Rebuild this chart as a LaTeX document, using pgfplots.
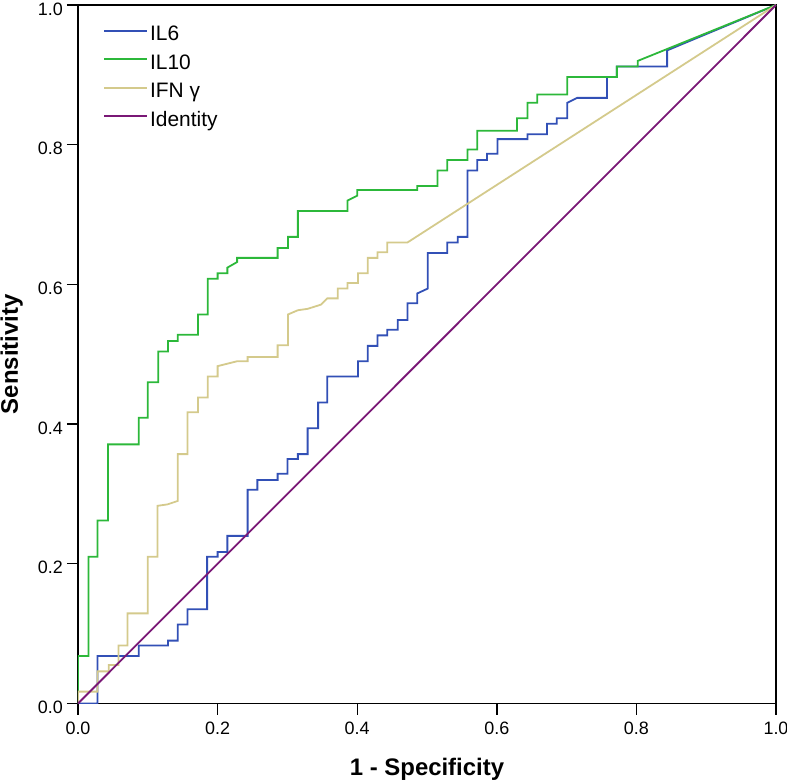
\documentclass[border=0pt]{standalone}
\usepackage{fontspec}
\setmainfont{Liberation Sans}
\usepackage{pgfplots}
\pgfplotsset{compat=1.18}
\definecolor{cIL6}{RGB}{50,80,182}
\definecolor{cIL10}{RGB}{44,184,58}
\definecolor{cIFN}{RGB}{212,202,140}
\definecolor{cId}{RGB}{122,24,118}
\begin{document}
\begin{tikzpicture}
\useasboundingbox (-78bp,-78.5bp) rectangle (709bp,703.5bp);
\begin{axis}[
  scale only axis,
  width=698bp, height=698.5bp,
  xmin=0, xmax=1, ymin=0, ymax=1,
  xtick={0,0.2,0.4,0.6,0.8,1}, ytick={0,0.2,0.4,0.6,0.8,1},
  xtick pos=bottom, ytick pos=left,
  tick align=outside, major tick length=11bp,
  every tick/.style={black, line width=1.4bp},
  axis line style={black, line width=1.6bp},
  /pgf/number format/assume math mode=true,
  /pgf/number format/.cd, fixed, fixed zerofill, precision=1, /pgfplots/.cd,
  tick label style={font=\fontsize{18}{18}\selectfont},
  xticklabel style={anchor=north, inner sep=0pt, yshift=-7bp},
  yticklabel style={anchor=east, inner sep=0pt, xshift=-4bp, yshift=-4bp},
  xlabel={1 - Specificity},
  ylabel={Sensitivity},
  label style={font=\bfseries\fontsize{24}{24}\selectfont},
  xlabel style={at={(axis description cs:0.5,0)}, anchor=base, yshift=-71.5bp, inner sep=0pt},
  ylabel style={at={(axis description cs:0,0.5)}, anchor=base, yshift=60bp, inner sep=0pt},
  legend cell align=left,
  legend image code/.code={\draw[#1] (0bp,5bp) -- (43bp,5bp);},
  legend style={at={(rel axis cs:0.036,0.9735)}, anchor=north west, draw=none, fill=none,
    inner sep=0pt, row sep=4.5bp, font=\fontsize{21}{21}\selectfont,
    nodes={text height=15bp, text depth=5bp, inner sep=2bp}},
]
\addplot[cIL6, line width=1.8bp] coordinates {
(0,0)(0.028,0)(0.028,0.068)(0.087,0.068)(0.087,0.083)(0.129,0.083)(0.129,0.09)(0.143,0.09)(0.143,0.113)(0.157,0.113)(0.157,0.135)(0.185,0.135)(0.185,0.21)(0.2,0.21)(0.2,0.217)(0.214,0.217)(0.214,0.24)(0.243,0.24)(0.243,0.306)(0.257,0.306)(0.257,0.32)(0.286,0.32)(0.286,0.329)(0.3,0.329)(0.3,0.35)(0.315,0.35)(0.315,0.357)(0.329,0.357)(0.329,0.394)(0.344,0.394)(0.344,0.431)(0.357,0.431)(0.357,0.468)(0.401,0.468)(0.401,0.49)(0.415,0.49)(0.415,0.512)(0.429,0.512)(0.429,0.527)(0.443,0.527)(0.443,0.535)(0.458,0.535)(0.458,0.549)(0.472,0.549)(0.472,0.573)(0.486,0.573)(0.486,0.587)(0.501,0.594)(0.501,0.645)(0.529,0.645)(0.529,0.66)(0.544,0.66)(0.544,0.668)(0.558,0.668)(0.558,0.763)(0.572,0.763)(0.572,0.778)(0.586,0.778)(0.586,0.787)(0.601,0.787)(0.601,0.808)(0.644,0.808)(0.644,0.815)(0.672,0.815)(0.672,0.83)(0.686,0.83)(0.686,0.838)(0.701,0.838)(0.701,0.86)(0.715,0.867)(0.758,0.867)(0.758,0.897)(0.772,0.897)(0.772,0.912)(0.844,0.912)(0.844,0.935)(1,1)
};
\addlegendentry{IL6}
\addplot[cIL10, line width=1.8bp] coordinates {
(0,0)(0,0.068)(0.015,0.068)(0.015,0.21)(0.028,0.21)(0.028,0.262)(0.043,0.262)(0.043,0.371)(0.087,0.371)(0.087,0.409)(0.1,0.409)(0.1,0.46)(0.115,0.46)(0.115,0.504)(0.129,0.504)(0.129,0.519)(0.143,0.519)(0.143,0.528)(0.172,0.528)(0.172,0.557)(0.186,0.557)(0.186,0.608)(0.2,0.608)(0.2,0.616)(0.214,0.616)(0.214,0.624)(0.228,0.632)(0.228,0.638)(0.286,0.638)(0.286,0.652)(0.301,0.652)(0.301,0.668)(0.315,0.668)(0.315,0.705)(0.386,0.705)(0.386,0.72)(0.4,0.727)(0.4,0.735)(0.486,0.735)(0.486,0.741)(0.515,0.741)(0.515,0.763)(0.529,0.763)(0.529,0.778)(0.558,0.778)(0.558,0.793)(0.572,0.793)(0.572,0.82)(0.629,0.82)(0.629,0.838)(0.644,0.838)(0.644,0.86)(0.658,0.86)(0.658,0.872)(0.701,0.872)(0.701,0.897)(0.772,0.897)(0.772,0.912)(0.802,0.912)(0.802,0.92)(1,1)
};
\addlegendentry{IL10}
\addplot[cIFN, line width=1.8bp] coordinates {
(0,0)(0,0.017)(0.028,0.017)(0.028,0.046)(0.044,0.046)(0.044,0.055)(0.058,0.055)(0.058,0.083)(0.071,0.083)(0.071,0.129)(0.1,0.129)(0.1,0.21)(0.114,0.21)(0.114,0.283)(0.128,0.285)(0.143,0.29)(0.143,0.357)(0.157,0.357)(0.157,0.417)(0.172,0.417)(0.172,0.438)(0.186,0.438)(0.186,0.468)(0.2,0.468)(0.2,0.483)(0.228,0.49)(0.243,0.49)(0.243,0.496)(0.286,0.496)(0.286,0.513)(0.301,0.513)(0.301,0.557)(0.315,0.563)(0.329,0.565)(0.348,0.571)(0.357,0.58)(0.372,0.58)(0.372,0.594)(0.386,0.594)(0.386,0.602)(0.401,0.602)(0.401,0.616)(0.415,0.616)(0.415,0.638)(0.429,0.638)(0.429,0.646)(0.443,0.646)(0.443,0.66)(0.472,0.66)(1,1)
};
\addlegendentry{IFN γ}
\addplot[cId, line width=1.8bp] coordinates {(0,0)(1,1)};
\addlegendentry{Identity}
\end{axis}
\end{tikzpicture}
\end{document}
